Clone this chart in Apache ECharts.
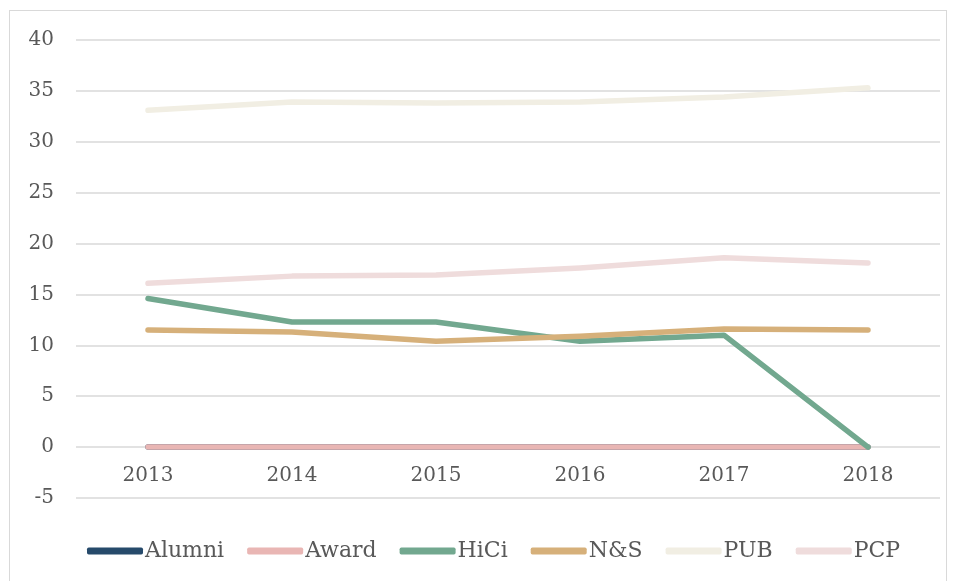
<!DOCTYPE html>
<html><head><meta charset="utf-8">
<script src="https://cdn.jsdelivr.net/npm/echarts@6/dist/echarts.min.js"></script>
<style>
html,body{margin:0;padding:0;background:#fff;}
#frame{position:absolute;left:9px;top:10px;width:938px;height:580px;border:1px solid #d9d9d9;box-sizing:border-box;}
#c{position:absolute;left:0;top:0;width:957px;height:581px;}
</style></head>
<body><div id="frame"></div><div id="c"></div>
<script>
const years = ['2013','2014','2015','2016','2017','2018'];
const alumni = [0,0,0,0,0,0];
const award = [0,0,0,0,0,0];
const hici = [14.6,12.3,12.3,10.4,11.0,0];
const ns = [11.5,11.3,10.4,10.9,11.6,11.5];
const pub = [33.1,33.9,33.8,33.9,34.4,35.3];
const pcp = [16.1,16.8,16.9,17.6,18.6,18.1];
const yTicks = {min:-5, max:40, interval:5};

const names = ['Alumni','Award','HiCi','N&S','PUB','PCP'];
const colors = ['#264a6b','#e9b6b4','#72a88f','#d6b07a','#f1eee3','#efdcdc'];
const datas = [alumni,award,hici,ns,pub,pcp];
const font = 'DejaVu Serif';

const chart = echarts.init(document.getElementById('c'));
chart.setOption({
  animation:false,
  textStyle:{fontFamily:font},
  grid:{left:76,right:17,top:40,bottom:83,containLabel:false},
  legend:{
    top:535,left:82,
    icon:'roundRect',itemWidth:56,itemHeight:7,itemGap:23,
    textStyle:{fontFamily:font,fontSize:22,color:'#595959',padding:[0,0,0,-3]},
    data:names.map((n,i)=>({name:n,itemStyle:{color:colors[i]}}))
  },
  xAxis:{
    type:'category',data:years,boundaryGap:true,position:'bottom',offset:-51,
    axisLine:{show:false,onZero:false},axisTick:{show:false},
    axisLabel:{fontFamily:font,fontSize:20,color:'#595959',margin:19}
  },
  yAxis:{
    type:'value',min:yTicks.min,max:yTicks.max,interval:yTicks.interval,
    axisLine:{show:false},axisTick:{show:false},
    axisLabel:{fontFamily:font,fontSize:20,color:'#595959',margin:22},
    splitLine:{lineStyle:{color:'#d9d9d9',width:1.5}}
  },
  series:names.map((n,i)=>({
    name:n,type:'line',data:datas[i],symbol:'none',
    lineStyle:{color:colors[i],width:5.5,cap:'round',join:'round'},
    itemStyle:{color:colors[i]}
  }))
});
</script></body></html>
